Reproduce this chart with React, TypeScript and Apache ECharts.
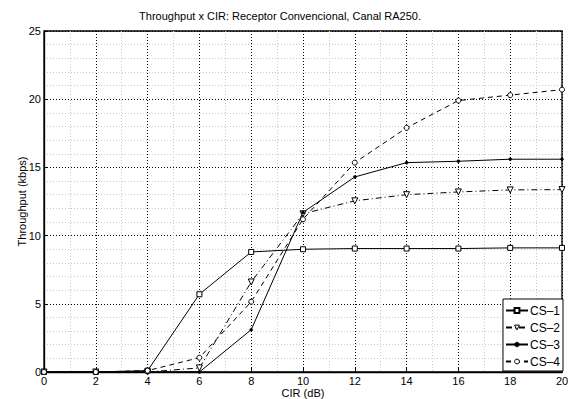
import React, { useEffect, useRef } from "react";
import * as echarts from "echarts";

const cirValues = [0, 2, 4, 6, 8, 10, 12, 14, 16, 18, 20];
const cs1 = [0, 0, 0.1, 5.7, 8.8, 9.0, 9.05, 9.05, 9.05, 9.1, 9.1];
const cs2 = [0, 0, 0, 0.3, 6.6, 11.6, 12.55, 13.0, 13.2, 13.35, 13.37];
const cs3 = [0, 0, 0, 0, 3.1, 11.7, 14.3, 15.35, 15.45, 15.6, 15.6];
const cs4 = [0, 0, 0.1, 1.05, 5.15, 11.2, 15.35, 17.9, 19.9, 20.3, 20.7];
const seriesNames = ["CS–1", "CS–2", "CS–3", "CS–4"];

const FONT = "Liberation Sans, Arial, Helvetica, sans-serif";

export default function App() {
  const ref = useRef<HTMLDivElement>(null);
  useEffect(() => {
    document.body.style.margin = "0";
    const chart = echarts.init(ref.current!, null, { renderer: "svg" });
    const pair = (ys: number[]) => cirValues.map((x, i) => [x, ys[i]]);
    const hollow = { color: "#ffffff", borderColor: "#000", borderWidth: 1 };
    const solid = { color: "#000", borderColor: "#000", borderWidth: 0.5 };
    chart.setOption({
      animation: false,
      backgroundColor: "#ffffff",
      textStyle: { fontFamily: FONT },
      title: {
        text: "Throughput x CIR: Receptor Convencional, Canal RA250.",
        left: 275,
        textAlign: "center",
        top: 5,
        textStyle: { fontSize: 11, fontWeight: "normal", color: "#000", fontFamily: FONT },
      },
      grid: {
        left: 44,
        right: 16,
        top: 31,
        bottom: 27,
        containLabel: false,
        outerBoundsMode: "none",
        show: true,
        borderColor: "#000",
        borderWidth: 1.3,
        backgroundColor: "transparent",
      },
      legend: {
        orient: "vertical",
        right: 15,
        bottom: 28,
        backgroundColor: "#ffffff",
        borderColor: "#000",
        borderWidth: 1,
        borderRadius: 0,
        padding: [5, 3, 3, 2],
        itemGap: 4,
        itemWidth: 22,
        itemHeight: 6,
        textStyle: { fontSize: 12, color: "#000", fontFamily: FONT, padding: [0, 0, 0, -3], lineHeight: 13 },
        data: [
          { name: seriesNames[0] },
          { name: seriesNames[1], itemStyle: hollow },
          { name: seriesNames[2], itemStyle: solid },
          { name: seriesNames[3], itemStyle: hollow },
        ],
      },
      xAxis: {
        type: "value",
        min: 0,
        max: 20,
        interval: 2,
        name: "CIR (dB)",
        nameLocation: "middle",
        nameGap: 15,
        nameMoveOverlap: false,
        nameTextStyle: { fontSize: 11, color: "#000", fontFamily: FONT },
        axisLine: { show: true, onZero: false, lineStyle: { color: "#000", width: 1.3 } },
        axisTick: { show: true, inside: true, length: 4, lineStyle: { color: "#000" } },
        axisLabel: { fontSize: 11, color: "#000", margin: 3, fontFamily: FONT },
        splitLine: { show: true, lineStyle: { color: "#000", type: [1, 2], width: 1 } },
        minorTick: { show: false, splitNumber: 2 },
        minorSplitLine: { show: true, lineStyle: { color: "#c8c8c8", type: [1, 2], width: 1 } },
      },
      yAxis: {
        type: "value",
        min: 0,
        max: 25,
        interval: 5,
        name: "Throughput (kbps)",
        nameLocation: "middle",
        nameGap: 17,
        nameMoveOverlap: false,
        nameTextStyle: { fontSize: 11, color: "#000", fontFamily: FONT },
        axisLine: { show: true, onZero: false, lineStyle: { color: "#000", width: 1.3 } },
        axisTick: { show: true, inside: true, length: 4, lineStyle: { color: "#000" } },
        axisLabel: { fontSize: 11, color: "#000", margin: 3, fontFamily: FONT },
        splitLine: { show: true, lineStyle: { color: "#000", type: [1, 2], width: 1 } },
        minorTick: { show: false, splitNumber: 5 },
        minorSplitLine: { show: true, lineStyle: { color: "#c8c8c8", type: [1, 2], width: 1 } },
      },
      series: [
        {
          name: seriesNames[0],
          type: "line",
          data: pair(cs1),
          symbol: "rect",
          symbolSize: 5,
          showAllSymbol: true,
          lineStyle: { color: "#000", width: 1, type: "solid" },
          itemStyle: hollow,
          z: 5,
        },
        {
          name: seriesNames[1],
          type: "line",
          data: pair(cs2),
          symbol: "path://M0,0 L10,0 L5,9 Z",
          symbolSize: [6, 6],
          showAllSymbol: true,
          lineStyle: { color: "#000", width: 1, type: [6, 3, 1, 3] },
          itemStyle: hollow,
          z: 5,
        },
        {
          name: seriesNames[2],
          type: "line",
          data: pair(cs3),
          symbol: "circle",
          symbolSize: 3,
          showAllSymbol: true,
          lineStyle: { color: "#000", width: 1, type: "solid" },
          itemStyle: solid,
          z: 5,
        },
        {
          name: seriesNames[3],
          type: "line",
          data: pair(cs4),
          symbol: "circle",
          symbolSize: 5,
          showAllSymbol: true,
          lineStyle: { color: "#000", width: 1, type: [5, 4] },
          itemStyle: hollow,
          z: 5,
        },
      ],
    });
    return () => chart.dispose();
  }, []);
  return <div ref={ref} style={{ width: 578, height: 399 }} />;
}
